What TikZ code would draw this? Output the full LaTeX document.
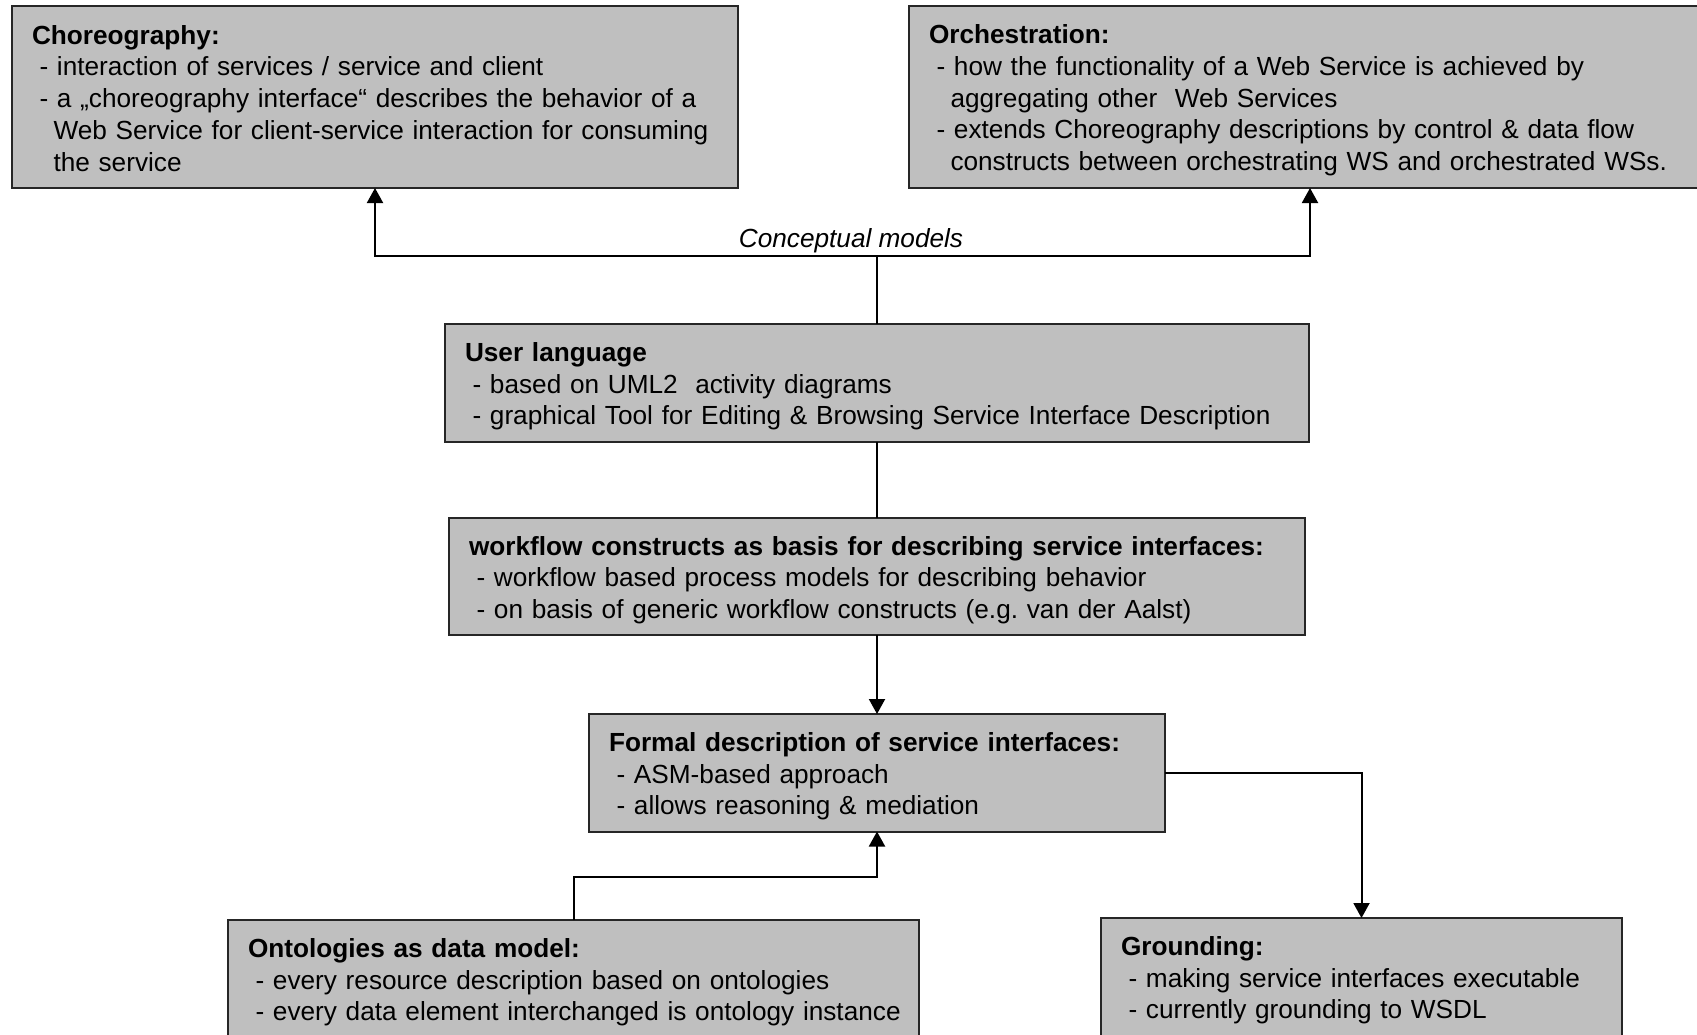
\documentclass[tikz,border=0pt]{standalone}
\usepackage{fontspec}
\setmainfont{Liberation Sans}
\usetikzlibrary{arrows.meta}

% title (with a strut that sets the top line height), bullet line and continuation
\newcommand{\ttl}[2][26pt]{\rule{0pt}{#1}\mbox{\textbf{#2}}}
\newcommand{\itm}[1]{\mbox{\hspace*{7.5pt}- #1}}
\newcommand{\cnt}[1]{\mbox{\hspace*{21.5pt}#1}}

\begin{document}
\begin{tikzpicture}[x=1pt,y=-1pt,
  box/.style={draw=black!85, line width=2pt, fill=black!25, rectangle,
    anchor=north west, inner xsep=20pt, inner ysep=0pt, outer sep=0pt,
    align=left, font=\fontsize{26.2}{31.7}\selectfont},
  conn/.style={line width=2pt, draw=black},
  arr/.style={conn, -{Triangle[width=16pt,length=15pt]}}]

\clip (0,0) rectangle (1697,1034);
\fill[white] (0,0) rectangle (1697,1034);

% upper row: conceptual models
\node[box, text width=686pt, minimum height=182.5pt] (choreo) at (12,5.5)
  {\ttl[22pt]{Choreography:}\\
   \itm{interaction of services / service and client}\\
   \itm{a „choreography interface“ describes the behavior of a}\\
   \cnt{Web Service for client-service interaction for consuming}\\
   \cnt{the service}};

\node[box, text width=762pt, minimum height=182.5pt] (orch) at (909,5.5)
  {\ttl{Orchestration:}\\
   \itm{how the functionality of a Web Service is achieved by}\\
   \cnt{aggregating other\ \ Web Services}\\
   \itm{extends Choreography descriptions by control \& data flow}\\
   \cnt{constructs between orchestrating WS and orchestrated WSs.}};

% central column
\node[box, text width=824pt, minimum height=118pt] (user) at (445,324)
  {\ttl{User language}\\
   \itm{based on UML2\ \ activity diagrams}\\
   \itm{graphical Tool for Editing \& Browsing Service Interface Description}};

\node[box, text width=816pt, minimum height=117pt] (work) at (449,518)
  {\ttl{workflow constructs as basis for describing service interfaces:}\\
   \itm{workflow based process models for describing behavior}\\
   \itm{on basis of generic workflow constructs (e.g.\ van der Aalst)}};

\node[box, text width=536pt, minimum height=117.5pt] (formal) at (589,714)
  {\ttl{Formal description of service interfaces:}\\
   \itm{ASM-based approach}\\
   \itm{allows reasoning \& mediation}};

% lower row
\node[box, text width=651pt, minimum height=118pt] (onto) at (228,920)
  {\ttl{Ontologies as data model:}\\
   \itm{every resource description based on ontologies}\\
   \itm{every data element interchanged is ontology instance}};

\node[box, text width=481pt, minimum height=118pt] (ground) at (1101,918)
  {\ttl{Grounding:}\\
   \itm{making service interfaces executable}\\
   \itm{currently grounding to WSDL}};

% connectors (yshift is in page direction: positive = up)
\coordinate (cm) at ([yshift=68pt]user.north);
\coordinate (om) at ([yshift=-45pt]formal.south);

\node[font=\fontsize{26.2}{31.7}\selectfont\itshape, inner sep=0pt, anchor=base]
  (cmlabel) at (851,247) {Conceptual models};

\draw[conn] (user.north) -- (cm);
\draw[arr] (cm) -| (choreo.south);
\draw[arr] (cm) -| (orch.south);
\draw[conn] (user.south) -- (work.north);
\draw[arr] (work.south) -- (formal.north);
\draw[arr] (onto.north) |- (om) -- (formal.south);
\draw[arr] (formal.east) -| (ground.north);

\end{tikzpicture}
\end{document}
